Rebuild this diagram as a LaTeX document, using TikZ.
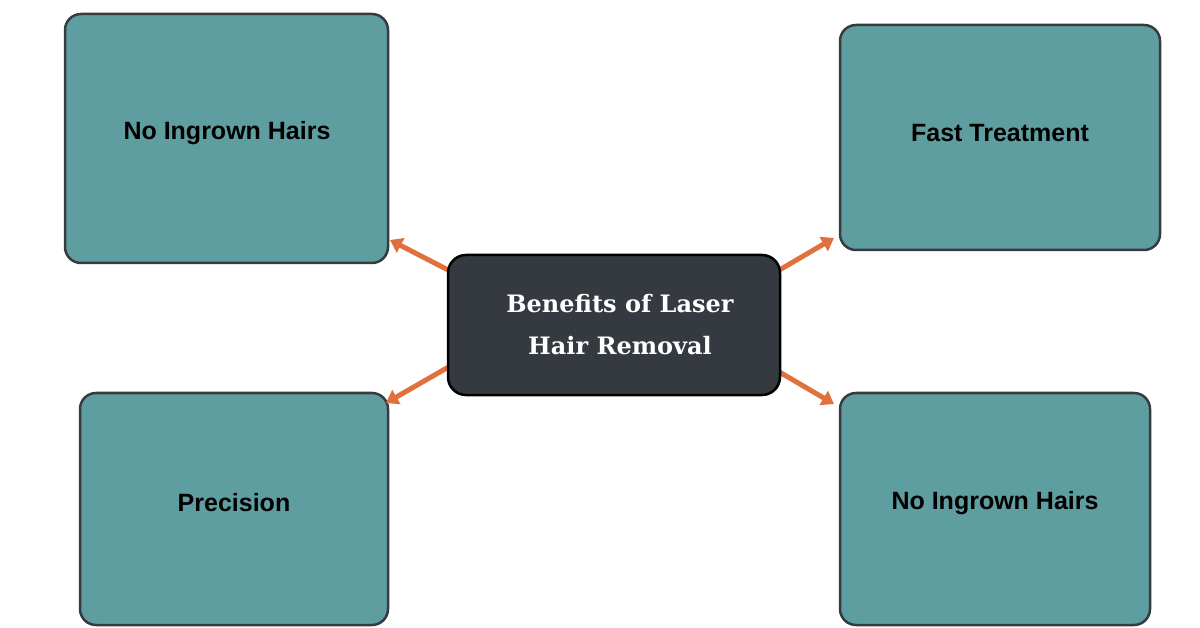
\documentclass[tikz,border=0pt]{standalone}
\usepackage{fontspec}
\setmainfont{Liberation Sans}
\newfontfamily\serifb{DejaVu Serif}
\usetikzlibrary{arrows.meta}
\definecolor{teal1}{HTML}{5F9EA0}
\definecolor{edge}{HTML}{353B40}
\definecolor{dark}{HTML}{343A40}
\definecolor{arr}{HTML}{E0703E}
\tikzset{
 box/.style={draw=edge,line width=2.5pt,fill=teal1,rounded corners=16pt},
 lbl/.style={font=\fontsize{25}{30}\selectfont\bfseries},
 conn/.style={draw=arr,line width=5pt,-{Triangle[length=12pt,width=16pt]}}
}
\begin{document}
\begin{tikzpicture}[x=1pt,y=-1pt]
\useasboundingbox (0,0) rectangle (1200,628);
\draw[box] (65,14) rectangle (388,263);
\draw[box] (840,25) rectangle (1160,250);
\draw[box] (80,393) rectangle (388,625);
\draw[box] (840,393) rectangle (1150,625);
\node[lbl] (t1) at (227,133) {No Ingrown Hairs};
\node[lbl] (t2) at (1000,133) {Fast Treatment};
\node[lbl] (t3) at (234,503) {Precision};
\node[lbl] (t4) at (995,503) {No Ingrown Hairs};
\coordinate (a1) at (390,240);
\coordinate (a2) at (834,238);
\coordinate (a3) at (386,403);
\coordinate (a4) at (834,404);
\coordinate (s1) at (452,272);
\coordinate (s2) at (776,272);
\coordinate (s3) at (452,365);
\coordinate (s4) at (776,370);
\draw[conn] (s1) -- (a1);
\draw[conn] (s2) -- (a2);
\draw[conn] (s3) -- (a3);
\draw[conn] (s4) -- (a4);
\draw[draw=black,line width=2.5pt,fill=dark,rounded corners=18pt] (448,255) rectangle (780,395);
\node[text=white,align=center,font=\serifb\fontsize{24}{42}\selectfont\bfseries] (c) at (620,325) {Benefits of Laser\\Hair Removal};
\end{tikzpicture}
\end{document}
